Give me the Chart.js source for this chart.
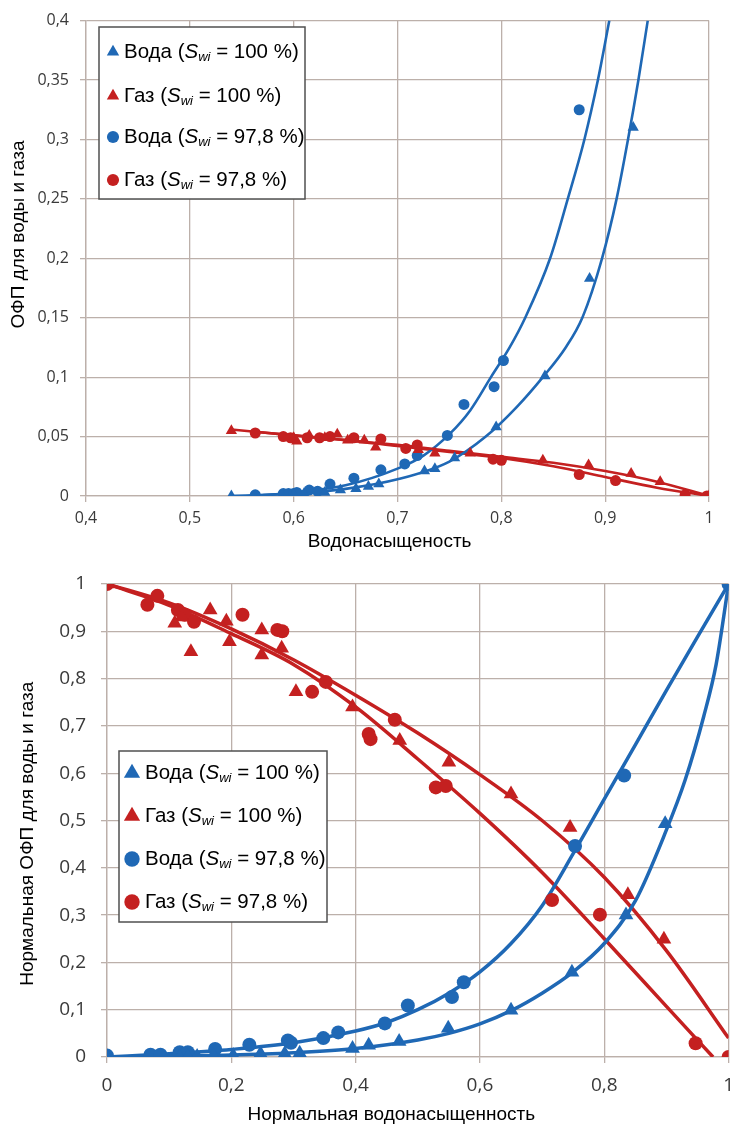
<!DOCTYPE html>
<html>
<head>
<meta charset="utf-8">
<script src="https://cdn.jsdelivr.net/npm/chart.js@4"></script>
<style>
  html, body { margin: 0; padding: 0; background: #fff; }
  #wrap { position: relative; width: 745px; height: 1126px; }
  #top { position: absolute; left: 0; top: 0; }
  #bottom { position: absolute; left: 0; top: 556px; }
</style>
</head>
<body>
<div id="wrap">
  <canvas id="top" width="745" height="556"></canvas>
  <canvas id="bottom" width="745" height="570"></canvas>
</div>
<script>
// legend entries (same order for both charts)
const legendNames = ["Вода", "Газ", "Вода", "Газ"];
const legendSwi = ["100", "100", "97,8", "97,8"];

// ---- top chart: relative permeability vs water saturation ----
const topWaterTri = [[0.54, 0.0], [0.6, 0.001], [0.61, 0.002], [0.63, 0.003], [0.645, 0.005], [0.66, 0.006],
  [0.672, 0.008], [0.682, 0.01], [0.726, 0.021], [0.736, 0.023], [0.755, 0.032], [0.795, 0.058],
  [0.842, 0.101], [0.885, 0.183], [0.927, 0.31]];
const topGasTri = [[0.54, 0.055], [0.6, 0.049], [0.603, 0.046], [0.615, 0.051], [0.63, 0.049], [0.642, 0.052],
  [0.652, 0.047], [0.668, 0.047], [0.679, 0.041], [0.72, 0.039], [0.736, 0.036], [0.77, 0.036],
  [0.84, 0.03], [0.884, 0.026], [0.925, 0.019], [0.953, 0.012], [1.0, 0.0]];
const topWaterCirc = [[0.563, 0.001], [0.59, 0.002], [0.595, 0.002], [0.6, 0.002], [0.603, 0.003], [0.615, 0.005],
  [0.623, 0.004], [0.635, 0.01], [0.658, 0.015], [0.684, 0.022], [0.707, 0.027], [0.719, 0.034],
  [0.748, 0.051], [0.764, 0.077], [0.793, 0.092], [0.802, 0.114], [0.875, 0.325]];
const topGasCirc = [[0.563, 0.053], [0.59, 0.05], [0.597, 0.049], [0.613, 0.049], [0.625, 0.049], [0.635, 0.05],
  [0.658, 0.049], [0.684, 0.048], [0.708, 0.04], [0.719, 0.043], [0.792, 0.031], [0.8, 0.03],
  [0.875, 0.018], [0.91, 0.013], [0.977, 0.001], [0.998, 0.0]];

// fitted curves
const topWaterTriFit = [[0.54, 0.0], [0.6, 0.002], [0.65, 0.006], [0.7, 0.014], [0.75, 0.029], [0.785, 0.05],
  [0.815, 0.075], [0.84, 0.1], [0.862, 0.125], [0.878, 0.15], [0.897, 0.2], [0.911, 0.25], [0.922, 0.3],
  [0.932, 0.35], [0.941, 0.4]];
const topWaterCircFit = [[0.563, 0.0], [0.6, 0.003], [0.65, 0.009], [0.7, 0.023], [0.725, 0.034], [0.75, 0.052],
  [0.77, 0.072], [0.79, 0.1], [0.808, 0.125], [0.823, 0.15], [0.847, 0.2], [0.864, 0.25], [0.88, 0.3],
  [0.893, 0.35], [0.904, 0.4]];
const topGasTriFit = [[0.54, 0.056], [0.6, 0.051], [0.65, 0.047], [0.7, 0.043], [0.75, 0.038], [0.8, 0.033],
  [0.85, 0.028], [0.9, 0.021], [0.95, 0.012], [1.0, 0.0]];
const topGasCircFit = [[0.563, 0.054], [0.6, 0.051], [0.65, 0.047], [0.7, 0.042], [0.75, 0.037], [0.8, 0.032],
  [0.85, 0.025], [0.9, 0.016], [0.95, 0.007], [1.0, 0.0]];

// ---- bottom chart: normalised ----
const botWaterTri = [[0, 0], [0.117, 0.0], [0.13, 0.0], [0.145, 0.001], [0.171, 0.003], [0.203, 0.003],
  [0.247, 0.007], [0.286, 0.007], [0.31, 0.008], [0.395, 0.018], [0.421, 0.025], [0.47, 0.033],
  [0.549, 0.061], [0.65, 0.099], [0.748, 0.179], [0.835, 0.3], [0.898, 0.493]];
const botGasTri = [[0, 1.0], [0.109, 0.917], [0.12, 0.93], [0.135, 0.857], [0.166, 0.945], [0.192, 0.921],
  [0.197, 0.878], [0.249, 0.903], [0.249, 0.85], [0.281, 0.864], [0.304, 0.772], [0.395, 0.74],
  [0.471, 0.669], [0.55, 0.623], [0.65, 0.556], [0.745, 0.485], [0.838, 0.343], [0.896, 0.249]];
const botWaterCirc = [[0, 0.003], [0.07, 0.005], [0.086, 0.005], [0.117, 0.01], [0.13, 0.01], [0.174, 0.017],
  [0.229, 0.026], [0.291, 0.035], [0.296, 0.03], [0.348, 0.04], [0.372, 0.052], [0.447, 0.071],
  [0.484, 0.109], [0.555, 0.127], [0.574, 0.158], [0.753, 0.446], [0.832, 0.595], [1, 1]];
const botGasCirc = [[0, 1.0], [0.065, 0.956], [0.081, 0.975], [0.114, 0.945], [0.125, 0.935], [0.14, 0.92],
  [0.218, 0.935], [0.274, 0.903], [0.282, 0.9], [0.33, 0.772], [0.352, 0.793], [0.421, 0.683],
  [0.424, 0.672], [0.463, 0.713], [0.529, 0.57], [0.545, 0.573], [0.716, 0.332], [0.793, 0.301],
  [0.947, 0.029], [1, 0]];

const botWaterTriFit = [[0, 0], [0.2, 0.004], [0.3, 0.009], [0.4, 0.018], [0.5, 0.036], [0.55, 0.05], [0.6, 0.07],
  [0.65, 0.098], [0.7, 0.135], [0.75, 0.18], [0.8, 0.24], [0.85, 0.33], [0.9, 0.48], [0.93, 0.585],
  [0.96, 0.72], [0.98, 0.83], [1, 1]];
const botWaterCircFit = [[0, 0], [0.1, 0.007], [0.2, 0.016], [0.3, 0.03], [0.4, 0.055], [0.45, 0.073], [0.5, 0.1],
  [0.55, 0.135], [0.6, 0.18], [0.65, 0.24], [0.7, 0.32], [0.75, 0.43], [0.8, 0.545], [0.85, 0.66],
  [0.9, 0.775], [0.95, 0.888], [1, 1]];
const botGasTriFit = [[0, 1], [0.1, 0.96], [0.2, 0.905], [0.3, 0.84], [0.4, 0.765], [0.5, 0.685], [0.6, 0.597],
  [0.7, 0.5], [0.8, 0.38], [0.9, 0.225], [1, 0.04]];
const botGasCircFit = [[0, 1], [0.1, 0.955], [0.2, 0.895], [0.3, 0.83], [0.4, 0.74], [0.5, 0.63], [0.6, 0.515],
  [0.7, 0.39], [0.8, 0.25], [0.9, 0.107], [0.975, 0]];

const BLUE = "#1f68b5";
const RED = "#c42020";
const GRID = "#bcb0aa";
const tickFont = '"Open Sans"';
const textFont = '"Liberation Sans"';

const toXY = (arr) => arr.map(([x, y]) => ({ x, y }));
const comma = (v) => String(+v.toFixed(2)).replace(".", ",");

function markers(data, color, style, r) {
  return {
    data: toXY(data), showLine: false, pointStyle: style,
    pointRadius: r, pointHoverRadius: r,
    backgroundColor: color, borderColor: color, borderWidth: 0,
  };
}
function fit(data, color, w) {
  return {
    data: toXY(data), showLine: true, pointRadius: 0, borderColor: color,
    borderWidth: w, cubicInterpolationMode: "monotone", fill: false,
  };
}

// legend box drawn inside the plot, with italic S and subscript wi
const boxLegend = {
  id: "boxLegend",
  afterDraw(chart, args, o) {
    const ctx = chart.ctx;
    ctx.save();
    ctx.fillStyle = "#fff";
    ctx.strokeStyle = "#505050";
    ctx.lineWidth = 1.5;
    ctx.fillRect(o.x, o.y, o.w, o.h);
    ctx.strokeRect(o.x, o.y, o.w, o.h);
    ctx.textBaseline = "middle";
    legendNames.forEach((name, i) => {
      const ds = chart.data.datasets[i];
      const cy = o.rows[i];
      const r = ds.pointRadius * 1.1;
      ctx.fillStyle = ds.backgroundColor;
      ctx.beginPath();
      if (ds.pointStyle === "triangle") {
        let a = 0;
        ctx.moveTo(o.mx + Math.sin(a) * r, cy - Math.cos(a) * r);
        a += 2 * Math.PI / 3;
        ctx.lineTo(o.mx + Math.sin(a) * r, cy - Math.cos(a) * r);
        a += 2 * Math.PI / 3;
        ctx.lineTo(o.mx + Math.sin(a) * r, cy - Math.cos(a) * r);
        ctx.closePath();
      } else {
        ctx.arc(o.mx, cy, r, 0, Math.PI * 2);
      }
      ctx.fill();

      ctx.fillStyle = "#000";
      let x = o.tx;
      const fs = o.size;
      ctx.font = `${fs}px ${textFont}`;
      const t1 = name + " (";
      ctx.fillText(t1, x, cy);
      x += ctx.measureText(t1).width;
      ctx.font = `italic ${fs}px ${textFont}`;
      ctx.fillText("S", x, cy);
      x += ctx.measureText("S").width;
      ctx.font = `italic ${Math.round(fs * 0.62)}px ${textFont}`;
      ctx.fillText("wi", x, cy + fs * 0.25);
      x += ctx.measureText("wi").width;
      ctx.font = `${fs}px ${textFont}`;
      ctx.fillText(" = " + legendSwi[i] + " %)", x, cy);
    });
    ctx.restore();
  },
};

function axes(o) {
  return {
    x: {
      type: "linear", min: o.xMin, max: 1,
      afterFit: (s) => { s.height = o.xh; },
      ticks: { stepSize: o.xStep, autoSkip: false, maxRotation: 0, padding: o.xPad, color: "#3a3a3a",
        font: { family: tickFont, size: o.tick }, callback: comma },
      grid: { color: GRID, lineWidth: 1.3, tickLength: 6 },
      border: { color: GRID, width: 1.3 },
      title: { display: true, text: o.xTitle, color: "#000",
        font: { family: textFont, size: 19 }, padding: { top: 0, bottom: o.xtPad } },
    },
    y: {
      type: "linear", min: 0, max: o.yMax,
      afterFit: (s) => { s.width = o.yw; },
      ticks: { stepSize: o.yStep, padding: o.yPad, color: "#3a3a3a",
        font: { family: tickFont, size: o.tick }, callback: comma },
      grid: { color: GRID, lineWidth: 1.3, tickLength: 6 },
      border: { color: GRID, width: 1.3 },
      title: { display: true, text: o.yTitle, color: "#000",
        font: { family: textFont, size: 19 }, padding: { top: o.ytPad, bottom: 0 } },
    },
  };
}

new Chart(document.getElementById("top"), {
  type: "scatter",
  data: {
    datasets: [
      markers(topWaterTri, BLUE, "triangle", 6.5),
      markers(topGasTri, RED, "triangle", 6.5),
      markers(topWaterCirc, BLUE, "circle", 5.5),
      markers(topGasCirc, RED, "circle", 5.5),
      fit(topWaterTriFit, BLUE, 2.6),
      fit(topGasTriFit, RED, 2.6),
      fit(topWaterCircFit, BLUE, 2.6),
      fit(topGasCircFit, RED, 2.6),
    ],
  },
  options: {
    responsive: false,
    animation: false,
    layout: { padding: { top: 13, right: 36, bottom: 0, left: 0 } },
    plugins: {
      legend: { display: false },
      tooltip: { enabled: false },
      boxLegend: { x: 99, y: 27, w: 206, h: 172, rows: [52, 96, 137, 180], mx: 113, tx: 124, size: 20.5 },
    },
    scales: axes({
      xMin: 0.4, xStep: 0.1, yMax: 0.4, yStep: 0.05, tick: 16,
      xh: 60, yw: 86, xPad: 7, yPad: 11, xtPad: 3, ytPad: 7,
      xTitle: "Водонасыщеность   ",
      yTitle: "         ОФП для воды и газа",
    }),
  },
  plugins: [boxLegend],
});

new Chart(document.getElementById("bottom"), {
  type: "scatter",
  data: {
    datasets: [
      markers(botWaterTri, BLUE, "triangle", 8.5),
      markers(botGasTri, RED, "triangle", 8.5),
      markers(botWaterCirc, BLUE, "circle", 7),
      markers(botGasCirc, RED, "circle", 7),
      fit(botWaterTriFit, BLUE, 3.5),
      fit(botGasTriFit, RED, 3.5),
      fit(botWaterCircFit, BLUE, 3.5),
      fit(botGasCircFit, RED, 3.5),
    ],
  },
  options: {
    responsive: false,
    animation: false,
    layout: { padding: { top: 28, right: 6, bottom: 0, left: 0 } },
    plugins: {
      legend: { display: false },
      tooltip: { enabled: false },
      boxLegend: { x: 119, y: 195, w: 208, h: 171, rows: [217, 260, 303, 346], mx: 132, tx: 145, size: 20.5 },
    },
    scales: axes({
      xMin: 0, xStep: 0.2, yMax: 1, yStep: 0.1, tick: 19,
      xh: 69, yw: 107, xPad: 11, yPad: 15, xtPad: 0, ytPad: 16,
      xTitle: "Нормальная водонасыщенность          ",
      yTitle: "Нормальная ОФП для воды и газа     ",
    }),
  },
  plugins: [boxLegend],
});
</script>
</body>
</html>
